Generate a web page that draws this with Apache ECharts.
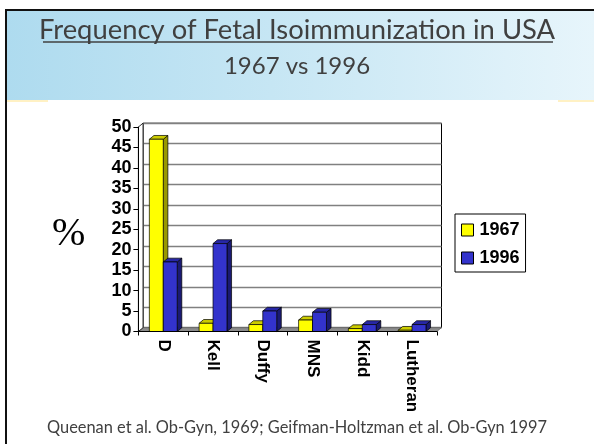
<!DOCTYPE html>
<html>
<head>
<meta charset="utf-8">
<script src="https://cdn.jsdelivr.net/npm/echarts@6/dist/echarts.min.js"></script>
<style>
  html, body { margin: 0; padding: 0; background: #fff; }
  #main { width: 594px; height: 444px; }
</style>
</head>
<body>
<div id="main"></div>
<script>
let categories = ["D", "Kell", "Duffy", "MNS", "Kidd", "Lutheran"]
let values1967 = [47, 2, 1.7, 2.8, 0.7, 0.3]
let values1996 = [17, 21.5, 5, 4.7, 1.7, 1.7]
let yMin = 0, yMax = 50, yStep = 5

// depth of the fake 3d
let dx = 4.6, dy = 3.8

function barItem(shift, front, side, top) {
    return function (params, api) {
        let c = api.value(0)
        let v = api.value(1)
        let base = api.coord([c, 0])
        let tip = api.coord([c, v])
        let band = api.size([1, 0])[0]
        let w = band * 0.28
        let x0 = base[0] + shift * w
        let x1 = x0 + w
        let y0 = tip[1], y1 = base[1]
        let line = { stroke: "#000", lineWidth: 0.7 }
        return {
            type: "group",
            children: [
                { type: "polygon", shape: { points: [[x1, y0], [x1 + dx, y0 - dy], [x1 + dx, y1 - dy], [x1, y1]] }, style: Object.assign({ fill: side }, line) },
                { type: "polygon", shape: { points: [[x0, y0], [x0 + dx, y0 - dy], [x1 + dx, y0 - dy], [x1, y0]] }, style: Object.assign({ fill: top }, line) },
                { type: "rect", shape: { x: x0, y: y0, width: w, height: y1 - y0 }, style: Object.assign({ fill: front }, line) }
            ]
        }
    }
}

function floorItem(params, api) {
    let band = api.size([1, 0])[0]
    let a = api.coord([0, 0])
    let b = api.coord([categories.length - 1, 0])
    let t = api.coord([0, yMax])
    let xl = a[0] - band / 2, xr = b[0] + band / 2, y = a[1]
    return {
        type: "group",
        children: [
            { type: "polygon", shape: { points: [[xl, y], [xl + dx, y - dy], [xr + dx, y - dy], [xr, y]] }, style: { fill: "#8c8c8c", stroke: "#555", lineWidth: 0.6 } },
            { type: "polygon", shape: { points: [[xl, y], [xl, t[1]], [xl + dx, t[1] - dy], [xl + dx, y - dy]] }, style: { fill: "#fff", stroke: "#000", lineWidth: 0.8 } }
        ]
    }
}

var myChart = echarts.init(document.getElementById("main"))

var option = {
    animation: false,
    title: [
        {
            text: "Frequency of Fetal Isoimmunization in USA",
            left: "center", top: 12,
            textStyle: { fontFamily: "Lato", fontSize: 27.4, fontWeight: "normal", color: "#404040" }
        },
        {
            text: "1967 vs 1996",
            left: "center", top: 49,
            textStyle: { fontFamily: "Lato", fontSize: 24, fontWeight: "normal", color: "#404040" }
        },
        {
            text: "Queenan et al. Ob-Gyn, 1969; Geifman-Holtzman et al. Ob-Gyn 1997",
            left: "center", top: 415,
            textStyle: { fontFamily: "Lato", fontSize: 16.4, fontWeight: "normal", color: "#404040" }
        },
        {
            text: "%",
            left: 47, top: 209,
            textStyle: { fontFamily: "Liberation Serif", fontSize: 40, fontWeight: "normal", color: "#000" }
        }
    ],
    graphic: [
        {
            type: "rect", z: -10, silent: true,
            shape: { x: 7, y: 10, width: 587, height: 90 },
            style: {
                fill: new echarts.graphic.LinearGradient(0, 0, 1, 0, [
                    { offset: 0, color: "#aedbef" },
                    { offset: 0.45, color: "#c6e6f4" },
                    { offset: 1, color: "#e7f5fb" }
                ])
            }
        },
        { type: "rect", z: -9, silent: true, shape: { x: 7, y: 100, width: 41, height: 2 }, style: { fill: "#fff1c4" } },
        { type: "rect", z: -9, silent: true, shape: { x: 558, y: 100, width: 36, height: 2 }, style: { fill: "#fff1c4" } },
        { type: "rect", z: 10, silent: true, shape: { x: 5, y: 9, width: 589, height: 2 }, style: { fill: "#111" } },
        { type: "rect", z: 10, silent: true, shape: { x: 5, y: 9, width: 2, height: 435 }, style: { fill: "#111" } },
        { type: "line", z: 10, silent: true, shape: { x1: 43, y1: 42, x2: 553, y2: 42 }, style: { stroke: "#404040", lineWidth: 1.5 } }
    ],
    legend: {
        orient: "vertical",
        left: 455, top: 214,
        data: ["1967", "1996"],
        backgroundColor: "#fff",
        borderColor: "#000",
        borderWidth: 1,
        borderRadius: 0,
        padding: [7, 6, 5, 6],
        itemGap: 10,
        itemWidth: 12, itemHeight: 12,
        icon: "rect",
        itemStyle: { borderColor: "#000", borderWidth: 1 },
        textStyle: { fontFamily: "Liberation Sans", fontWeight: "bold", fontSize: 18, color: "#000", padding: [0, 0, 0, 1] }
    },
    grid: [
        { left: 143, top: 123.2, width: 298.5, height: 204.5, show: true, backgroundColor: "#fff", borderColor: "#000", borderWidth: 1 },
        { left: 138.4, top: 127, width: 298.5, height: 204.5 }
    ],
    xAxis: [
        { type: "category", gridIndex: 0, data: categories, show: false },
        {
            type: "category", gridIndex: 1, data: categories, z: 5,
            axisLine: { lineStyle: { color: "#000", width: 1 } },
            axisTick: { show: true, length: 4, interval: 0, lineStyle: { color: "#000" } },
            axisLabel: { rotate: -90, margin: 8, interval: 0, padding: [6, 0, 0, 0], fontFamily: "Liberation Sans", fontWeight: "bold", fontSize: 17, color: "#000" }
        }
    ],
    yAxis: [
        {
            type: "value", gridIndex: 0, min: yMin, max: yMax, interval: yStep,
            axisLine: { show: false }, axisTick: { show: false }, axisLabel: { show: false },
            splitLine: { lineStyle: { color: "#808080", width: 1.3 } }
        },
        {
            type: "value", gridIndex: 1, min: yMin, max: yMax, interval: yStep, z: 5,
            axisLine: { show: true, lineStyle: { color: "#000", width: 1 } },
            axisTick: { show: true, length: 5, lineStyle: { color: "#000" } },
            axisLabel: { margin: 7, fontFamily: "Liberation Sans", fontWeight: "bold", fontSize: 18, color: "#000" },
            splitLine: { show: false }
        }
    ],
    series: [
        {
            name: "floor", type: "custom", xAxisIndex: 1, yAxisIndex: 1, z: 1, silent: true,
            renderItem: floorItem,
            data: [[0, 0]]
        },
        {
            name: "1967", type: "custom", xAxisIndex: 1, yAxisIndex: 1, z: 2,
            itemStyle: { color: "#ffff00" },
            renderItem: barItem(-1, "#ffff00", "#999900", "#cccc00"),
            data: values1967.map((v, i) => [i, v])
        },
        {
            name: "1996", type: "custom", xAxisIndex: 1, yAxisIndex: 1, z: 2,
            itemStyle: { color: "#3333cc" },
            renderItem: barItem(0, "#3333cc", "#1a1a73", "#2727a6"),
            data: values1996.map((v, i) => [i, v])
        }
    ]
}

myChart.setOption(option)
</script>
</body>
</html>
